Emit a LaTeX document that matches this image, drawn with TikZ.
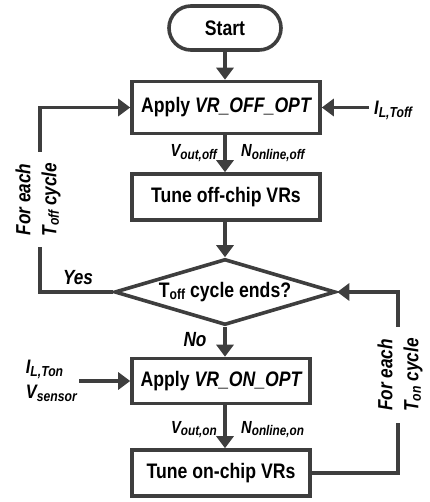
\documentclass[tikz,border=0pt]{standalone}
\usepackage{fontspec}
\setmainfont{Liberation Sans}[FakeStretch=0.84]
\usetikzlibrary{arrows.meta,shapes.geometric,shapes.misc}
\definecolor{ln}{HTML}{3E3E3E}
\newcommand\sbs[2]{\raisebox{-2.5pt}{\fontsize{#1}{#1}\selectfont #2}}
\begin{document}
\begin{tikzpicture}[x=1pt,y=-1pt,
  mainf/.style={font=\fontsize{21}{25}\selectfont\bfseries},
  box/.style={draw=ln, fill=white, line width=3.6pt, inner sep=0pt, mainf},
  term/.style={box, rounded rectangle},
  dec/.style={box, diamond, aspect=3.3},
  arr/.style={draw=ln, line width=3.6pt, -{Triangle[width=17pt,length=12pt]}},
  lab/.style={inner sep=0pt, font=\fontsize{17.5}{20}\selectfont\bfseries\itshape},
  inlab/.style={inner sep=0pt, font=\fontsize{19.5}{25}\selectfont\bfseries\itshape},
  side/.style={inner sep=0pt, font=\fontsize{20.5}{26}\selectfont\bfseries\itshape}
]
\useasboundingbox (0,0) rectangle (429,502);

\node[term, minimum width=112pt, minimum height=44pt] (start) at (225,28) {Start};
\node[box, minimum width=188pt, minimum height=52pt] (apply1) at (226,107.5) {Apply \itshape VR\_OFF\_OPT};
\node[box, minimum width=188pt, minimum height=46pt] (tune1) at (226,197) {Tune off-chip VRs};
\node[dec, minimum width=221pt, minimum height=66pt] (dec) at (225,292) {T\sbs{14.5}{off} cycle ends?};
\node[box, minimum width=178pt, minimum height=45pt] (apply2) at (221,381) {Apply \itshape VR\_ON\_OPT};
\node[box, minimum width=178pt, minimum height=46pt] (tune2) at (221,473) {Tune on-chip VRs};

% input labels
\node[inlab, anchor=base west, inner xsep=5pt] (il1) at (369,115) {I\sbs{14.5}{L,Toff}};
\node[inlab, anchor=east, align=left, inner xsep=2pt] (il2) at (79,381) {I\sbs{14.5}{L,Ton}\\V\sbs{14.5}{sensor}};

% main flow
\draw[arr] (start.south) -- (apply1.north -| start.south);
\draw[arr] (apply1.south -| start.south) -- (tune1.north -| start.south);
\draw[arr] (tune1.south -| dec.north) -- (dec.north);
\draw[arr] (dec.south) -- (apply2.north -| dec.south);
\draw[arr] (apply2.south -| dec.south) -- (tune2.north -| dec.south);

% inputs
\draw[arr] (il1.west |- apply1.east) -- (apply1.east);
\draw[arr] (il2.east |- apply2.west) -- (apply2.west);

% loops
\coordinate (L) at (40,200);
\coordinate (R) at (398,375);
\draw[arr] (dec.west) -| (L) |- (apply1.west);
\draw[arr] (tune2.east) -| (R) |- (dec.east);

% loop labels
\node[side, rotate=90, fill=white, align=center, inner xsep=11pt, inner ysep=1pt] (lt1) at (38,199.5) {For each\\T\sbs{14.5}{off} cycle};
\node[side, rotate=90, fill=white, align=center, inner xsep=11pt, inner ysep=1pt] (lt2) at (400,375) {For each\\T\sbs{14.5}{on} cycle};
\node[side, anchor=base] (yes) at (78,284) {Yes};
\node[side, anchor=base] (no) at (195,346) {No};

% flow labels
\node[lab, anchor=base east] (vo1) at (217,157) {V\sbs{14}{out,off}};
\node[lab, anchor=base west] (no1) at (241,157) {N\sbs{14}{online,off}};
\node[lab, anchor=base east] (vo2) at (217,433) {V\sbs{14}{out,on}};
\node[lab, anchor=base west] (no2) at (241,433) {N\sbs{14}{online,on}};
\end{tikzpicture}
\end{document}
